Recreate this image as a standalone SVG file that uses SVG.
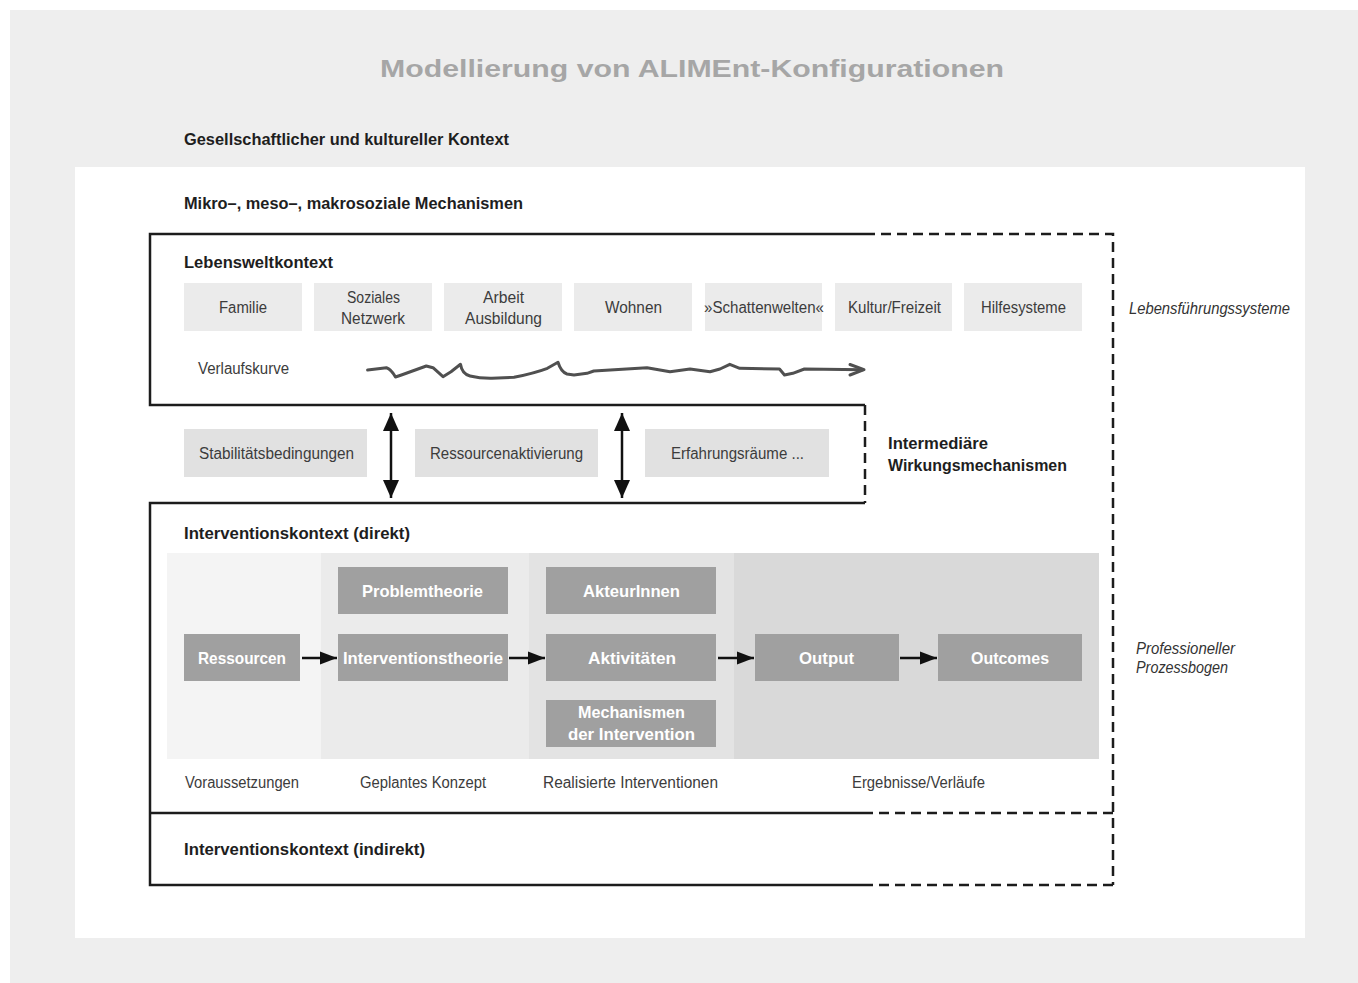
<svg xmlns="http://www.w3.org/2000/svg" width="1358" height="983" viewBox="0 0 1358 983">
  <defs>
    <style>
      text { font-family: "Liberation Sans", Arial, sans-serif; }
      .title { font-size: 24px; font-weight: bold; fill: #a6a6a6; }
      .h { font-size: 16.5px; font-weight: bold; fill: #1e1e1e; }
      .t { font-size: 16px; fill: #3c3c3c; }
      .w { font-size: 16.5px; font-weight: bold; fill: #ffffff; }
      .i { font-size: 16px; font-style: italic; fill: #333333; }
      .lb { fill: #ebebeb; }
      .mb { fill: #e1e1e1; }
      .db { fill: #a0a0a0; }
      .frame { fill: none; stroke: #1c1c1c; stroke-width: 2.5; }
      .dash { fill: none; stroke: #1c1c1c; stroke-width: 2.5; stroke-dasharray: 10 6; }
      .arr { fill: none; stroke: #111111; stroke-width: 2.5; }
      .wave { fill: none; stroke: #505050; stroke-width: 3; stroke-linejoin: round; stroke-linecap: round; }
    </style>
    <marker id="ah" markerUnits="userSpaceOnUse" markerWidth="18" markerHeight="14" refX="17" refY="7" orient="auto">
      <path d="M0,0.5 L17,7 L0,13.5 z" fill="#111111"/>
    </marker>
    <marker id="ahs" markerUnits="userSpaceOnUse" markerWidth="18" markerHeight="20" refX="18" refY="8" orient="auto-start-reverse">
      <path d="M0,0 L18,8 L0,16 z" fill="#111111"/>
    </marker>
  </defs>

  <!-- backgrounds -->
  <rect x="0" y="0" width="1358" height="983" fill="#ffffff"/>
  <rect x="10" y="10" width="1348" height="973" fill="#eeeeee"/>
  <rect x="75" y="167" width="1230" height="771" fill="#ffffff"/>

  <text class="title" x="380" y="77" textLength="624" lengthAdjust="spacingAndGlyphs">Modellierung von ALIMEnt-Konfigurationen</text>
  <text class="h" x="184" y="145" textLength="325" lengthAdjust="spacingAndGlyphs">Gesellschaftlicher und kultureller Kontext</text>
  <text class="h" x="184" y="209" textLength="339" lengthAdjust="spacingAndGlyphs">Mikro–, meso–, makrosoziale Mechanismen</text>

  <!-- frames -->
  <g id="frames">
    <path class="frame" d="M865,234 H150 V405 H865"/>
    <path class="dash" d="M865,234 H1113 V885"/>
    <path class="dash" d="M865,405 V503"/>
    <path class="frame" d="M865,503 H150 V885 H863"/>
    <path class="frame" d="M150,813 H863"/>
    <path class="dash" d="M863,813 H1113"/>
    <path class="dash" d="M863,885 H1113"/>
  </g>

  <!-- Lebensweltkontext -->
  <g id="lebenswelt">
    <text class="h" x="184" y="268" textLength="149" lengthAdjust="spacingAndGlyphs">Lebensweltkontext</text>
    <text class="i" x="1129" y="314" textLength="161" lengthAdjust="spacingAndGlyphs">Lebensführungssysteme</text>
  </g>
  <g id="familie"><rect class="lb" x="184" y="283" width="118" height="48"/><text class="t" x="219" y="313" textLength="48" lengthAdjust="spacingAndGlyphs">Familie</text></g>
  <g id="soziales"><rect class="lb" x="314" y="283" width="118" height="48"/><text class="t" x="347" y="303" textLength="53" lengthAdjust="spacingAndGlyphs">Soziales</text><text class="t" x="341" y="324" textLength="64" lengthAdjust="spacingAndGlyphs">Netzwerk</text></g>
  <g id="arbeit"><rect class="lb" x="444" y="283" width="118" height="48"/><text class="t" x="483" y="303" textLength="41" lengthAdjust="spacingAndGlyphs">Arbeit</text><text class="t" x="465" y="324" textLength="77" lengthAdjust="spacingAndGlyphs">Ausbildung</text></g>
  <g id="wohnen"><rect class="lb" x="574" y="283" width="118" height="48"/><text class="t" x="605" y="313" textLength="57" lengthAdjust="spacingAndGlyphs">Wohnen</text></g>
  <g id="schattenwelten"><rect class="lb" x="705" y="283" width="117" height="48"/><text class="t" x="704" y="313" textLength="120" lengthAdjust="spacingAndGlyphs">»Schattenwelten«</text></g>
  <g id="kultur"><rect class="lb" x="835" y="283" width="117" height="48"/><text class="t" x="848" y="313" textLength="93" lengthAdjust="spacingAndGlyphs">Kultur/Freizeit</text></g>
  <g id="hilfesysteme"><rect class="lb" x="964" y="283" width="118" height="48"/><text class="t" x="981" y="313" textLength="85" lengthAdjust="spacingAndGlyphs">Hilfesysteme</text></g>

  <g id="verlaufskurve">
    <text class="t" x="198" y="374" textLength="91" lengthAdjust="spacingAndGlyphs">Verlaufskurve</text>
    <path class="wave" d="M367.6,370 L386.5,367.7 Q391,369 395.5,377 L401.4,375 L426.3,366 L433,367.7 L443,376.7 L451,371.7 L460.5,364.3 Q462,374 470,376 Q480,378.5 492,378.3 L514,377.3 Q535,373 547.4,368.3 L558,362.3 Q561,372 567,374 L574,375 L587,373.3 L593.8,371 L647,367.7 L670,371.7 L690,369 L710,371.7 L720,369 L729.8,364.3 L739.7,368.3 L779.5,369 L784.5,375 L792.8,373.3 L804.4,369 L863,369.7"/>
    <path class="wave" d="M850,364.5 L864,369.7 L850,375"/>
  </g>

  <!-- Intermediäre Wirkungsmechanismen -->
  <g id="stabilitaet"><rect class="mb" x="184" y="429" width="183" height="48"/><text class="t" x="199" y="459" textLength="155" lengthAdjust="spacingAndGlyphs">Stabilitätsbedingungen</text></g>
  <g id="ressourcenaktivierung"><rect class="mb" x="415" y="429" width="183" height="48"/><text class="t" x="430" y="459" textLength="153" lengthAdjust="spacingAndGlyphs">Ressourcenaktivierung</text></g>
  <g id="erfahrungsraeume"><rect class="mb" x="645" y="429" width="184" height="48"/><text class="t" x="671" y="459" textLength="133" lengthAdjust="spacingAndGlyphs">Erfahrungsräume ...</text></g>
  <g id="intermediaer">
    <text class="h" x="888" y="449" textLength="100" lengthAdjust="spacingAndGlyphs">Intermediäre</text>
    <text class="h" x="888" y="471" textLength="179" lengthAdjust="spacingAndGlyphs">Wirkungsmechanismen</text>
  </g>

  <!-- Interventionskontext (direkt) -->
  <g id="direkt">
    <text class="h" x="184" y="539" textLength="226" lengthAdjust="spacingAndGlyphs">Interventionskontext (direkt)</text>
    <rect x="167" y="553" width="154" height="206" fill="#f4f4f4"/>
    <rect x="321" y="553" width="208" height="206" fill="#ebebeb"/>
    <rect x="529" y="553" width="205" height="206" fill="#e3e3e3"/>
    <rect x="734" y="553" width="365" height="206" fill="#d9d9d9"/>
    <text class="t" x="185" y="788" textLength="114" lengthAdjust="spacingAndGlyphs">Voraussetzungen</text>
    <text class="t" x="360" y="788" textLength="126" lengthAdjust="spacingAndGlyphs">Geplantes Konzept</text>
    <text class="t" x="543" y="788" textLength="175" lengthAdjust="spacingAndGlyphs">Realisierte Interventionen</text>
    <text class="t" x="852" y="788" textLength="133" lengthAdjust="spacingAndGlyphs">Ergebnisse/Verläufe</text>
    <text class="i" x="1136" y="654" textLength="99" lengthAdjust="spacingAndGlyphs">Professioneller</text>
    <text class="i" x="1136" y="673" textLength="92" lengthAdjust="spacingAndGlyphs">Prozessbogen</text>
  </g>
  <g id="ressourcen"><rect class="db" x="184" y="634" width="116" height="47"/><text class="w" x="198" y="664" textLength="88" lengthAdjust="spacingAndGlyphs">Ressourcen</text></g>
  <g id="problemtheorie"><rect class="db" x="338" y="567" width="170" height="47"/><text class="w" x="362" y="597" textLength="121" lengthAdjust="spacingAndGlyphs">Problemtheorie</text></g>
  <g id="interventionstheorie"><rect class="db" x="338" y="634" width="170" height="47"/><text class="w" x="343" y="664" textLength="160" lengthAdjust="spacingAndGlyphs">Interventionstheorie</text></g>
  <g id="akteurinnen"><rect class="db" x="546" y="567" width="170" height="47"/><text class="w" x="583" y="597" textLength="97" lengthAdjust="spacingAndGlyphs">AkteurInnen</text></g>
  <g id="aktivitaeten"><rect class="db" x="546" y="634" width="170" height="47"/><text class="w" x="588" y="664" textLength="88" lengthAdjust="spacingAndGlyphs">Aktivitäten</text></g>
  <g id="mechanismen"><rect class="db" x="546" y="700" width="170" height="47"/><text class="w" x="578" y="718" textLength="107" lengthAdjust="spacingAndGlyphs">Mechanismen</text><text class="w" x="568" y="740" textLength="127" lengthAdjust="spacingAndGlyphs">der Intervention</text></g>
  <g id="output"><rect class="db" x="755" y="634" width="144" height="47"/><text class="w" x="799" y="664" textLength="55" lengthAdjust="spacingAndGlyphs">Output</text></g>
  <g id="outcomes"><rect class="db" x="938" y="634" width="144" height="47"/><text class="w" x="971" y="664" textLength="78" lengthAdjust="spacingAndGlyphs">Outcomes</text></g>

  <!-- Interventionskontext (indirekt) -->
  <g id="indirekt">
    <text class="h" x="184" y="855" textLength="241" lengthAdjust="spacingAndGlyphs">Interventionskontext (indirekt)</text>
  </g>

  <!-- connectors -->
  <g id="connectors">
    <line class="arr" x1="391" y1="413" x2="391" y2="498" marker-start="url(#ahs)" marker-end="url(#ahs)"/>
    <line class="arr" x1="622" y1="413" x2="622" y2="498" marker-start="url(#ahs)" marker-end="url(#ahs)"/>
    <line class="arr" x1="302" y1="658" x2="337" y2="658" marker-end="url(#ah)"/>
    <line class="arr" x1="509" y1="658" x2="545" y2="658" marker-end="url(#ah)"/>
    <line class="arr" x1="718" y1="658" x2="754" y2="658" marker-end="url(#ah)"/>
    <line class="arr" x1="900" y1="658" x2="937" y2="658" marker-end="url(#ah)"/>
  </g>
</svg>
